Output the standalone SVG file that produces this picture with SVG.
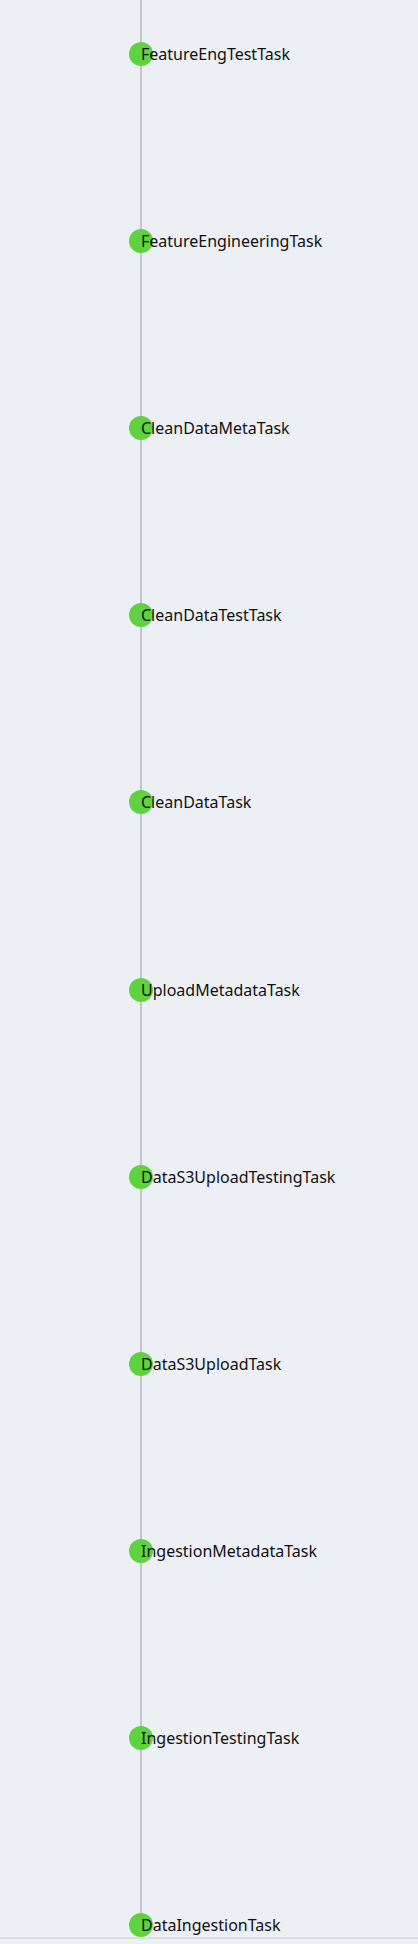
<svg xmlns="http://www.w3.org/2000/svg" width="418" height="1944" viewBox="0 0 418 1944">
<style>
.dot{fill:#5fd33f}
.lbl{font-family:"Source Sans Pro","Noto Sans","Liberation Sans",sans-serif;font-size:16px;fill:#111}
</style>
<rect x="0" y="0" width="418" height="1944" fill="#eceff4"/>
<rect x="0" y="1937" width="418" height="2" fill="#dcdde0"/>
<g id="connectors">
<line x1="141" y1="0" x2="141" y2="1925" stroke="#c2c4c9" stroke-width="2"/>
</g>
<g id="n1"><circle class="dot" cx="141" cy="54" r="12"/><text class="lbl" x="141" y="60">FeatureEngTestTask</text></g>
<g id="n2"><circle class="dot" cx="141" cy="241" r="12"/><text class="lbl" x="141" y="247">FeatureEngineeringTask</text></g>
<g id="n3"><circle class="dot" cx="141" cy="428" r="12"/><text class="lbl" x="141" y="434">CleanDataMetaTask</text></g>
<g id="n4"><circle class="dot" cx="141" cy="615" r="12"/><text class="lbl" x="141" y="621">CleanDataTestTask</text></g>
<g id="n5"><circle class="dot" cx="141" cy="802" r="12"/><text class="lbl" x="141" y="808">CleanDataTask</text></g>
<g id="n6"><circle class="dot" cx="141" cy="990" r="12"/><text class="lbl" x="141" y="996">UploadMetadataTask</text></g>
<g id="n7"><circle class="dot" cx="141" cy="1177" r="12"/><text class="lbl" x="141" y="1183">DataS3UploadTestingTask</text></g>
<g id="n8"><circle class="dot" cx="141" cy="1364" r="12"/><text class="lbl" x="141" y="1370">DataS3UploadTask</text></g>
<g id="n9"><circle class="dot" cx="141" cy="1551" r="12"/><text class="lbl" x="141" y="1557">IngestionMetadataTask</text></g>
<g id="n10"><circle class="dot" cx="141" cy="1738" r="12"/><text class="lbl" x="141" y="1744">IngestionTestingTask</text></g>
<g id="n11"><circle class="dot" cx="141" cy="1925" r="12"/><text class="lbl" x="141" y="1931">DataIngestionTask</text></g>
</svg>
